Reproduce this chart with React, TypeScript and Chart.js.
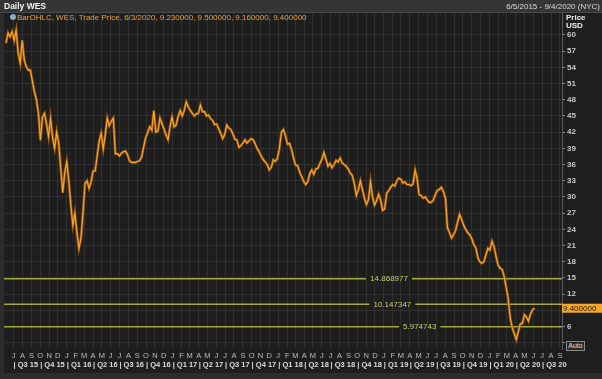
import React, { useEffect, useRef } from "react";
import { Chart, registerables } from "chart.js";
Chart.register(...registerables);

// ---------------- data ----------------
const START_DATE = "2015-06-05"; // first weekly sample
const AXIS_START = "2015-05-29";
const AXIS_END = "2020-09-08";
const FIRST_MONTH_TICK = "2015-07-01";

// weekly trade price (USD)
const weeklyPrice = [
  58.5, 60.4, 59.7, 60.6, 59, 60.9, 56.7, 54.8, 59, 55.4,
  54.1, 53.5, 53.5, 51.5, 49.5, 48, 45.5, 40.5, 44.8, 45.5,
  43.5, 41.2, 44.5, 41, 39, 42, 40, 35.5, 30.8, 34.5,
  36.5, 33, 28.5, 24.8, 27, 23.5, 20.5, 22.3, 27, 32.5,
  33, 31.6, 32.8, 34.8, 34.8, 37.5, 40.4, 41.8, 38.9, 41.5,
  44.6, 43.2, 44, 44.6, 38, 38, 37.6, 38.1, 38.4, 38.5,
  37.8, 36.7, 36.4, 36.4, 36.4, 36.6, 36.7, 37.5, 39.3, 41,
  42, 43, 42.4, 46, 42, 42.2, 44.6, 43.6, 42.6, 41.5,
  40.6, 43, 44.8, 43, 43.3, 44.9, 46, 45, 46, 47.6,
  46.7, 46, 45.5, 45, 45.4, 45.5, 47, 45.8, 45.8, 45,
  45.2, 44.5, 44.2, 43.4, 43.5, 42.7, 41.8, 40.8, 41.6, 43.3,
  42.8, 42.5, 41.7, 40.7, 40.6, 39.2, 39.5, 40, 40.6, 40,
  40.4, 40.8, 40.6, 39.9, 39, 38.4, 37.6, 36.9, 36.5, 36,
  35, 35.5, 36.9, 36.6, 37.1, 39, 42, 42.5, 41.3, 39.8,
  39.9, 38.8, 37.2, 35.9, 35.8, 34.6, 33.8, 32.9, 32.3, 32.8,
  34.3, 35, 34.2, 35.2, 35.3, 36.2, 37, 38.2, 37, 35.7,
  36.2, 35.4, 36, 36.8, 36.5, 37.2, 36.3, 36, 35.7, 35.2,
  34.4, 34, 32.5, 30.3, 31.3, 33, 31.4, 29.8, 28.6, 29.5,
  32.8, 30, 28.5, 29.3, 30.5, 29.5, 27.5, 27.8, 30.7, 31.2,
  31.8, 32.3, 32, 33, 33.5, 33.3, 32.6, 32.8, 32.3, 32.3,
  32.1, 32.4, 35, 33.5, 30.4, 30.3, 29.8, 30, 29.5, 29,
  29, 29.4, 30.4, 31.2, 31.4, 31.8, 31, 29.8, 24.3, 23.4,
  22.4, 23, 23.8, 25.3, 26.8, 25.8, 24.8, 24, 23.4, 23,
  22.3, 21.2, 20.6, 18.8, 18, 17.7, 18, 19.3, 20.5, 20.2,
  21.8, 20.8, 19, 17.4, 16.8, 16.6, 15.3, 13.3, 11.2, 7.6,
  5.8, 4.7, 3.6, 5.1, 6.5, 6.6, 8.2, 7.8, 7, 8.3,
  9.1, 9.4,
];

const refLevels = [14.868977, 10.147347, 5.974743];
const refLabels = ["14.868977", "10.147347", "5.974743"];
const lastPrice = 9.4;
const lastPriceLabel = "9.400000";
const yTickValues = [3, 6, 9, 12, 15, 18, 21, 24, 27, 30, 33, 36, 39, 42, 45, 48, 51, 54, 57, 60];
const hiddenYTicks = [3, 9];
const quarterLabels = [
  "Q3 15", "Q4 15", "Q1 16", "Q2 16", "Q3 16", "Q4 16", "Q1 17", "Q2 17", "Q3 17",
  "Q4 17", "Q1 18", "Q2 18", "Q3 18", "Q4 18", "Q1 19", "Q2 19", "Q3 19", "Q4 19",
  "Q1 20", "Q2 20", "Q3 20",
];
const MONTH_LETTERS = ["J", "F", "M", "A", "M", "J", "J", "A", "S", "O", "N", "D"];

// ---------------- style ----------------
const FONT = '"Liberation Sans", Arial, sans-serif';
const BG = "#1e1e1e";
const GRID = "#313131";
const ORANGE = "#ffa526";
const ORANGE_DARK = "#8f5815";
const REF_LINE = "#a6a63c";
const REF_TEXT = "#cfcf78";
const refLabelFrac = [0.69, 0.696, 0.745];

const DAY = 86400000;
const toTs = (s: string) => Date.parse(s + "T00:00:00Z");

export default function App() {
  const ref = useRef<HTMLCanvasElement>(null);

  useEffect(() => {
    document.body.style.margin = "0";
    document.body.style.background = BG;
    const canvas = ref.current!;
    const t0 = toTs(START_DATE);
    const xMin = toTs(AXIS_START);
    const xMax = toTs(AXIS_END);
    const priceData = weeklyPrice.map((v, i) => ({ x: t0 + i * 7 * DAY, y: v }));

    const monthTicks: number[] = [];
    {
      const first = new Date(toTs(FIRST_MONTH_TICK));
      let yr = first.getUTCFullYear();
      let m = first.getUTCMonth();
      for (;;) {
        const ts = Date.UTC(yr, m, 1);
        if (ts > xMax) break;
        monthTicks.push(ts);
        m++;
        if (m === 12) {
          m = 0;
          yr++;
        }
      }
    }
    const quarterTicks = quarterLabels.map((l) => {
      const q = Number(l[1]);
      const yr = 2000 + Number(l.slice(3));
      return Date.UTC(yr, (q - 1) * 3, 1);
    });

    const refDatasets = refLevels.map((lv) => ({
      type: "line" as const,
      data: [
        { x: xMin, y: lv },
        { x: xMax, y: lv },
      ],
      borderColor: REF_LINE,
      borderWidth: 1.5,
      pointRadius: 0,
      order: 3,
    }));

    const overlay = {
      id: "overlay",
      afterDatasetsDraw(chart: any) {
        const { ctx, chartArea, scales } = chart;
        const y = scales.y;
        ctx.save();
        ctx.font = `8px ${FONT}`;
        ctx.textAlign = "center";
        ctx.textBaseline = "middle";
        refLevels.forEach((lv, i) => {
          const py = y.getPixelForValue(lv);
          const px = chartArea.left + refLabelFrac[i] * (chartArea.right - chartArea.left);
          const w = ctx.measureText(refLabels[i]).width;
          ctx.fillStyle = BG;
          ctx.fillRect(px - w / 2 - 4, py - 2, w + 8, 4);
          ctx.fillStyle = REF_TEXT;
          ctx.fillText(refLabels[i], px, py + 0.5);
        });
        ctx.restore();
      },
      afterDraw(chart: any) {
        const { ctx, chartArea, scales } = chart;
        const y = scales.y;
        const py = y.getPixelForValue(lastPrice);
        ctx.save();
        ctx.fillStyle = "#f7a823";
        ctx.fillRect(chartArea.right, py - 4.5, 40, 9);
        ctx.fillStyle = "#1a1a1a";
        ctx.font = `8px ${FONT}`;
        ctx.textAlign = "left";
        ctx.textBaseline = "middle";
        ctx.fillText(lastPriceLabel, chartArea.right + 1, py + 0.5);
        ctx.restore();
      },
    };

    const chart = new Chart(canvas, {
      type: "line",
      data: {
        datasets: [
          {
            data: priceData,
            borderColor: ORANGE,
            borderWidth: 1.1,
            pointRadius: 0,
            tension: 0,
            order: 1,
          },
          {
            data: priceData,
            borderColor: ORANGE_DARK,
            borderWidth: 2.6,
            pointRadius: 0,
            tension: 0,
            order: 2,
          },
          ...refDatasets,
        ] as any,
      },
      options: {
        animation: false,
        responsive: false,
        parsing: false as any,
        normalized: true,
        events: [],
        layout: { padding: { top: 13, left: 4, right: 0, bottom: 0 } },
        plugins: { legend: { display: false }, tooltip: { enabled: false } },
        scales: {
          x: {
            type: "linear",
            position: "bottom",
            min: xMin,
            max: xMax,
            weight: 0,
            afterBuildTicks: (s: any) => {
              s.ticks = monthTicks.map((v) => ({ value: v }));
            },
            afterFit: (s: any) => {
              s.height = 9;
            },
            grid: { color: GRID, drawTicks: false },
            border: { display: false },
            ticks: {
              autoSkip: false,
              maxRotation: 0,
              color: "#bdbdbd",
              padding: 2,
              font: { family: FONT, size: 7.5 },
              callback: (v: any) => MONTH_LETTERS[new Date(Number(v)).getUTCMonth()],
            },
          },
          xq: {
            type: "linear",
            position: "bottom",
            min: xMin,
            max: xMax,
            weight: 1,
            afterBuildTicks: (s: any) => {
              s.ticks = quarterTicks.map((v) => ({ value: v }));
            },
            afterFit: (s: any) => {
              s.height = 21;
            },
            grid: { display: false, drawTicks: false },
            border: { display: false },
            ticks: {
              autoSkip: false,
              maxRotation: 0,
              align: "start",
              color: "#dcdcdc",
              padding: 2,
              font: { family: FONT, size: 7.5, weight: "bold" },
              callback: (v: any) => {
                const i = quarterTicks.indexOf(Number(v));
                return i >= 0 ? "| " + quarterLabels[i] : "";
              },
            },
          },
          y: {
            type: "linear",
            position: "right",
            min: 1.85,
            max: 64.07,
            afterBuildTicks: (s: any) => {
              s.ticks = yTickValues.map((v) => ({ value: v }));
            },
            afterFit: (s: any) => {
              s.width = 40;
            },
            grid: { color: GRID, tickColor: "#8a8a8a", tickLength: 3, drawTicks: true },
            border: { display: true, color: "#5c5c5c" },
            ticks: {
              color: "#c8c8c8",
              padding: 2,
              font: { family: FONT, size: 8, weight: "bold" },
              callback: (v: any) => (hiddenYTicks.includes(Number(v)) ? "" : String(v)),
            },
          },
        },
      } as any,
      plugins: [overlay],
    });
    return () => chart.destroy();
  }, []);

  const txt: React.CSSProperties = { position: "absolute", fontFamily: FONT, whiteSpace: "nowrap" };

  return (
    <div style={{ position: "relative", width: 602, height: 379, background: BG, overflow: "hidden" }}>
      <div style={{ position: "absolute", left: 0, top: 0, width: 4, height: 379, background: "#2c2c2c" }} />
      <div style={{ position: "absolute", left: 0, top: 373, width: 602, height: 6, background: "#2c2c2c" }} />
      <canvas ref={ref} width={602} height={379} style={{ position: "absolute", left: 0, top: 0, width: 602, height: 379 }} />
      <div style={{ position: "absolute", left: 0, top: 0, width: 602, height: 12, background: "#353535", borderBottom: "1px solid #4a4a4a" }} />
      <div style={{ ...txt, left: 4, top: 1, fontSize: 8.5, fontWeight: "bold", color: "#f2f2f2", lineHeight: "11px" }}>Daily WES</div>
      <div style={{ ...txt, right: 2, top: 1, fontSize: 8, color: "#dadada", lineHeight: "11px" }}>6/5/2015 - 9/4/2020 (NYC)</div>
      <div style={{ position: "absolute", left: 10, top: 14, width: 6, height: 6, borderRadius: 3, background: "#8fa6c4" }} />
      <div style={{ ...txt, left: 17, top: 13, fontSize: 8, color: "#e8a13a", lineHeight: "9px" }}>
        BarOHLC, WES, Trade Price, 6/3/2020, 9.230000, 9.500000, 9.160000, 9.400000
      </div>
      <div style={{ ...txt, left: 566, top: 13, fontSize: 8, fontWeight: "bold", color: "#eeeeee", lineHeight: "9px" }}>Price</div>
      <div style={{ ...txt, left: 566, top: 21, fontSize: 8, fontWeight: "bold", color: "#eeeeee", lineHeight: "9px" }}>USD</div>
      <div
        style={{
          ...txt,
          left: 566,
          top: 341,
          width: 17,
          height: 8,
          border: "1px solid #8a8a8a",
          background: "#2a2a2a",
          fontSize: 7,
          color: "#e0e0e0",
          lineHeight: "8px",
          textAlign: "center",
        }}
      >
        Auto
      </div>
    </div>
  );
}
